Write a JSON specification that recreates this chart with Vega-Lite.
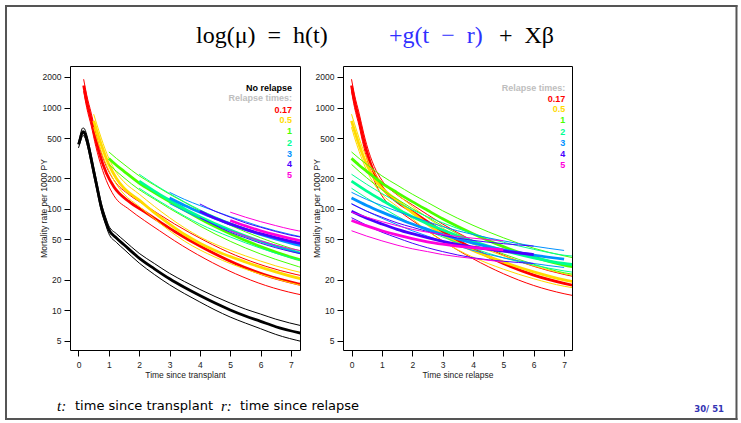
{
"$schema": "https://vega.github.io/schema/vega-lite/v6.json",
"padding": {"left": 4, "top": 4, "right": 4, "bottom": 4},
"background": "white",
"bounds": "flush",
"config": {
  "view": {"stroke": "black", "strokeWidth": 1},
  "font": "Liberation Sans",
  "axis": {"domain": false, "grid": false, "tickColor": "black", "tickSize": 6, "tickWidth": 1, "labelFont": "Liberation Sans", "labelFontSize": 8.5, "labelColor": "#222222", "labelPadding": 3, "titleFont": "Liberation Sans", "titleFontSize": 8.5, "titleFontWeight": "normal", "titleColor": "#222222", "labelOverlap": false, "labelFlush": false},
  "axisX": {"labelPadding": 4, "titlePadding": 2},
  "axisY": {"titlePadding": -6}
},
"datasets": {"curves": [
{"g":"none","c":"lo","t":0,"v":400},{"g":"none","c":"lo","t":0.05,"v":445},{"g":"none","c":"lo","t":0.1,"v":500},{"g":"none","c":"lo","t":0.15,"v":530},{"g":"none","c":"lo","t":0.2,"v":515},{"g":"none","c":"lo","t":0.3,"v":410},{"g":"none","c":"lo","t":0.4,"v":300},{"g":"none","c":"lo","t":0.5,"v":214},{"g":"none","c":"lo","t":0.6,"v":155},{"g":"none","c":"lo","t":0.75,"v":96},{"g":"none","c":"lo","t":0.9,"v":69},{"g":"none","c":"lo","t":1,"v":57},{"g":"none","c":"lo","t":1.25,"v":46.8},{"g":"none","c":"lo","t":1.5,"v":40},{"g":"none","c":"lo","t":2,"v":29.3},{"g":"none","c":"lo","t":2.5,"v":22.6},{"g":"none","c":"lo","t":3,"v":17.9},{"g":"none","c":"lo","t":3.5,"v":14.6},{"g":"none","c":"lo","t":4,"v":12.1},{"g":"none","c":"lo","t":4.5,"v":10.1},{"g":"none","c":"lo","t":5,"v":8.6},{"g":"none","c":"lo","t":5.5,"v":7.5},{"g":"none","c":"lo","t":6,"v":6.6},{"g":"none","c":"lo","t":6.5,"v":5.8},{"g":"none","c":"lo","t":7.4,"v":4.9},
{"g":"none","c":"hi","t":0,"v":455},{"g":"none","c":"hi","t":0.05,"v":520},{"g":"none","c":"hi","t":0.1,"v":600},{"g":"none","c":"hi","t":0.15,"v":630},{"g":"none","c":"hi","t":0.2,"v":615},{"g":"none","c":"hi","t":0.3,"v":500},{"g":"none","c":"hi","t":0.4,"v":365},{"g":"none","c":"hi","t":0.5,"v":260},{"g":"none","c":"hi","t":0.6,"v":187},{"g":"none","c":"hi","t":0.75,"v":115},{"g":"none","c":"hi","t":0.9,"v":82},{"g":"none","c":"hi","t":1,"v":68},{"g":"none","c":"hi","t":1.25,"v":57},{"g":"none","c":"hi","t":1.5,"v":49},{"g":"none","c":"hi","t":2,"v":36.5},{"g":"none","c":"hi","t":2.5,"v":29},{"g":"none","c":"hi","t":3,"v":23.2},{"g":"none","c":"hi","t":3.5,"v":19.2},{"g":"none","c":"hi","t":4,"v":16.1},{"g":"none","c":"hi","t":4.5,"v":13.7},{"g":"none","c":"hi","t":5,"v":11.8},{"g":"none","c":"hi","t":5.5,"v":10.3},{"g":"none","c":"hi","t":6,"v":9.2},{"g":"none","c":"hi","t":6.5,"v":8.2},{"g":"none","c":"hi","t":7.4,"v":7},
{"g":"none","c":"mid","t":0,"v":432},{"g":"none","c":"mid","t":0.05,"v":480},{"g":"none","c":"mid","t":0.1,"v":545},{"g":"none","c":"mid","t":0.15,"v":577},{"g":"none","c":"mid","t":0.2,"v":560},{"g":"none","c":"mid","t":0.3,"v":450},{"g":"none","c":"mid","t":0.4,"v":330},{"g":"none","c":"mid","t":0.5,"v":236},{"g":"none","c":"mid","t":0.6,"v":170},{"g":"none","c":"mid","t":0.75,"v":105},{"g":"none","c":"mid","t":0.9,"v":75},{"g":"none","c":"mid","t":1,"v":62.5},{"g":"none","c":"mid","t":1.25,"v":51.7},{"g":"none","c":"mid","t":1.5,"v":44.4},{"g":"none","c":"mid","t":2,"v":32.8},{"g":"none","c":"mid","t":2.5,"v":25.7},{"g":"none","c":"mid","t":3,"v":20.5},{"g":"none","c":"mid","t":3.5,"v":16.8},{"g":"none","c":"mid","t":4,"v":14},{"g":"none","c":"mid","t":4.5,"v":11.8},{"g":"none","c":"mid","t":5,"v":10.1},{"g":"none","c":"mid","t":5.5,"v":8.8},{"g":"none","c":"mid","t":6,"v":7.8},{"g":"none","c":"mid","t":6.5,"v":6.9},{"g":"none","c":"mid","t":7.4,"v":5.9},
{"g":"0.17","c":"lo","s":0,"t":0.17,"v":1450},{"g":"0.17","c":"lo","s":0.1,"t":0.27,"v":1000},{"g":"0.17","c":"lo","s":0.25,"t":0.42,"v":660},{"g":"0.17","c":"lo","s":0.4,"t":0.57,"v":415},{"g":"0.17","c":"lo","s":0.5,"t":0.67,"v":318},{"g":"0.17","c":"lo","s":0.75,"t":0.92,"v":190},{"g":"0.17","c":"lo","s":1,"t":1.17,"v":135},{"g":"0.17","c":"lo","s":1.5,"t":1.67,"v":99},{"g":"0.17","c":"lo","s":2,"t":2.17,"v":77},{"g":"0.17","c":"lo","s":2.5,"t":2.67,"v":61},{"g":"0.17","c":"lo","s":3,"t":3.17,"v":48.5},{"g":"0.17","c":"lo","s":4,"t":4.17,"v":32.3},{"g":"0.17","c":"lo","s":5,"t":5.17,"v":23},{"g":"0.17","c":"lo","s":6,"t":6.17,"v":17.6},{"g":"0.17","c":"lo","s":7,"t":7.17,"v":14.6},{"g":"0.17","c":"lo","s":7.4,"t":7.57,"v":13.8},
{"g":"0.17","c":"hi","s":0,"t":0.17,"v":1900},{"g":"0.17","c":"hi","s":0.1,"t":0.27,"v":1330},{"g":"0.17","c":"hi","s":0.25,"t":0.42,"v":880},{"g":"0.17","c":"hi","s":0.4,"t":0.57,"v":560},{"g":"0.17","c":"hi","s":0.5,"t":0.67,"v":430},{"g":"0.17","c":"hi","s":0.75,"t":0.92,"v":262},{"g":"0.17","c":"hi","s":1,"t":1.17,"v":192},{"g":"0.17","c":"hi","s":1.5,"t":1.67,"v":138},{"g":"0.17","c":"hi","s":2,"t":2.17,"v":110},{"g":"0.17","c":"hi","s":2.5,"t":2.67,"v":88},{"g":"0.17","c":"hi","s":3,"t":3.17,"v":71},{"g":"0.17","c":"hi","s":4,"t":4.17,"v":48.5},{"g":"0.17","c":"hi","s":5,"t":5.17,"v":35},{"g":"0.17","c":"hi","s":6,"t":6.17,"v":27.2},{"g":"0.17","c":"hi","s":7,"t":7.17,"v":22.6},{"g":"0.17","c":"hi","s":7.4,"t":7.57,"v":21.3},
{"g":"0.17","c":"mid","s":0,"t":0.17,"v":1650},{"g":"0.17","c":"mid","s":0.1,"t":0.27,"v":1150},{"g":"0.17","c":"mid","s":0.25,"t":0.42,"v":760},{"g":"0.17","c":"mid","s":0.4,"t":0.57,"v":480},{"g":"0.17","c":"mid","s":0.5,"t":0.67,"v":370},{"g":"0.17","c":"mid","s":0.75,"t":0.92,"v":225},{"g":"0.17","c":"mid","s":1,"t":1.17,"v":165},{"g":"0.17","c":"mid","s":1.5,"t":1.67,"v":118},{"g":"0.17","c":"mid","s":2,"t":2.17,"v":94},{"g":"0.17","c":"mid","s":2.5,"t":2.67,"v":75},{"g":"0.17","c":"mid","s":3,"t":3.17,"v":60},{"g":"0.17","c":"mid","s":4,"t":4.17,"v":40.5},{"g":"0.17","c":"mid","s":5,"t":5.17,"v":29},{"g":"0.17","c":"mid","s":6,"t":6.17,"v":22.3},{"g":"0.17","c":"mid","s":7,"t":7.17,"v":18.5},{"g":"0.17","c":"mid","s":7.4,"t":7.57,"v":17.4},
{"g":"0.5","c":"lo","s":0,"t":0.5,"v":640},{"g":"0.5","c":"lo","s":0.1,"t":0.6,"v":505},{"g":"0.5","c":"lo","s":0.25,"t":0.75,"v":370},{"g":"0.5","c":"lo","s":0.5,"t":1,"v":240},{"g":"0.5","c":"lo","s":0.75,"t":1.25,"v":175},{"g":"0.5","c":"lo","s":1,"t":1.5,"v":140},{"g":"0.5","c":"lo","s":1.5,"t":2,"v":106},{"g":"0.5","c":"lo","s":2,"t":2.5,"v":80},{"g":"0.5","c":"lo","s":2.5,"t":3,"v":61},{"g":"0.5","c":"lo","s":3,"t":3.5,"v":48},{"g":"0.5","c":"lo","s":3.5,"t":4,"v":39.5},{"g":"0.5","c":"lo","s":4,"t":4.5,"v":33.5},{"g":"0.5","c":"lo","s":5,"t":5.5,"v":25.5},{"g":"0.5","c":"lo","s":6,"t":6.5,"v":20.5},{"g":"0.5","c":"lo","s":7,"t":7.5,"v":17.3},{"g":"0.5","c":"lo","s":7.4,"t":7.9,"v":16.5},
{"g":"0.5","c":"hi","s":0,"t":0.5,"v":860},{"g":"0.5","c":"hi","s":0.1,"t":0.6,"v":690},{"g":"0.5","c":"hi","s":0.25,"t":0.75,"v":500},{"g":"0.5","c":"hi","s":0.5,"t":1,"v":315},{"g":"0.5","c":"hi","s":0.75,"t":1.25,"v":228},{"g":"0.5","c":"hi","s":1,"t":1.5,"v":185},{"g":"0.5","c":"hi","s":1.5,"t":2,"v":140},{"g":"0.5","c":"hi","s":2,"t":2.5,"v":106},{"g":"0.5","c":"hi","s":2.5,"t":3,"v":82},{"g":"0.5","c":"hi","s":3,"t":3.5,"v":65},{"g":"0.5","c":"hi","s":3.5,"t":4,"v":53},{"g":"0.5","c":"hi","s":4,"t":4.5,"v":45},{"g":"0.5","c":"hi","s":5,"t":5.5,"v":34.5},{"g":"0.5","c":"hi","s":6,"t":6.5,"v":27.5},{"g":"0.5","c":"hi","s":7,"t":7.5,"v":23},{"g":"0.5","c":"hi","s":7.4,"t":7.9,"v":21.8},
{"g":"0.5","c":"mid","s":0,"t":0.5,"v":740},{"g":"0.5","c":"mid","s":0.1,"t":0.6,"v":590},{"g":"0.5","c":"mid","s":0.25,"t":0.75,"v":430},{"g":"0.5","c":"mid","s":0.5,"t":1,"v":275},{"g":"0.5","c":"mid","s":0.75,"t":1.25,"v":200},{"g":"0.5","c":"mid","s":1,"t":1.5,"v":160},{"g":"0.5","c":"mid","s":1.5,"t":2,"v":122},{"g":"0.5","c":"mid","s":2,"t":2.5,"v":92},{"g":"0.5","c":"mid","s":2.5,"t":3,"v":71},{"g":"0.5","c":"mid","s":3,"t":3.5,"v":56},{"g":"0.5","c":"mid","s":3.5,"t":4,"v":46},{"g":"0.5","c":"mid","s":4,"t":4.5,"v":39},{"g":"0.5","c":"mid","s":5,"t":5.5,"v":30},{"g":"0.5","c":"mid","s":6,"t":6.5,"v":24},{"g":"0.5","c":"mid","s":7,"t":7.5,"v":20},{"g":"0.5","c":"mid","s":7.4,"t":7.9,"v":19},
{"g":"1","c":"lo","s":0,"t":1,"v":275},{"g":"1","c":"lo","s":0.25,"t":1.25,"v":235},{"g":"1","c":"lo","s":0.5,"t":1.5,"v":203},{"g":"1","c":"lo","s":1,"t":2,"v":155},{"g":"1","c":"lo","s":1.5,"t":2.5,"v":125},{"g":"1","c":"lo","s":2,"t":3,"v":101},{"g":"1","c":"lo","s":2.5,"t":3.5,"v":83},{"g":"1","c":"lo","s":3,"t":4,"v":68},{"g":"1","c":"lo","s":4,"t":5,"v":48},{"g":"1","c":"lo","s":5,"t":6,"v":36},{"g":"1","c":"lo","s":6,"t":7,"v":28.5},{"g":"1","c":"lo","s":7,"t":8,"v":23.5},{"g":"1","c":"lo","s":7.4,"t":8.4,"v":22.5},
{"g":"1","c":"hi","s":0,"t":1,"v":365},{"g":"1","c":"hi","s":0.25,"t":1.25,"v":315},{"g":"1","c":"hi","s":0.5,"t":1.5,"v":275},{"g":"1","c":"hi","s":1,"t":2,"v":212},{"g":"1","c":"hi","s":1.5,"t":2.5,"v":172},{"g":"1","c":"hi","s":2,"t":3,"v":140},{"g":"1","c":"hi","s":2.5,"t":3.5,"v":116},{"g":"1","c":"hi","s":3,"t":4,"v":96},{"g":"1","c":"hi","s":4,"t":5,"v":69},{"g":"1","c":"hi","s":5,"t":6,"v":52},{"g":"1","c":"hi","s":6,"t":7,"v":41},{"g":"1","c":"hi","s":7,"t":8,"v":34.5},{"g":"1","c":"hi","s":7.4,"t":8.4,"v":32.5},
{"g":"1","c":"mid","s":0,"t":1,"v":315},{"g":"1","c":"mid","s":0.25,"t":1.25,"v":270},{"g":"1","c":"mid","s":0.5,"t":1.5,"v":235},{"g":"1","c":"mid","s":1,"t":2,"v":180},{"g":"1","c":"mid","s":1.5,"t":2.5,"v":145},{"g":"1","c":"mid","s":2,"t":3,"v":118},{"g":"1","c":"mid","s":2.5,"t":3.5,"v":97},{"g":"1","c":"mid","s":3,"t":4,"v":80},{"g":"1","c":"mid","s":4,"t":5,"v":57},{"g":"1","c":"mid","s":5,"t":6,"v":42.5},{"g":"1","c":"mid","s":6,"t":7,"v":33.5},{"g":"1","c":"mid","s":7,"t":8,"v":28},{"g":"1","c":"mid","s":7.4,"t":8.4,"v":26.5},
{"g":"2","c":"lo","s":0,"t":2,"v":160},{"g":"2","c":"lo","s":0.5,"t":2.5,"v":128},{"g":"2","c":"lo","s":1,"t":3,"v":104},{"g":"2","c":"lo","s":1.5,"t":3.5,"v":85},{"g":"2","c":"lo","s":2,"t":4,"v":71},{"g":"2","c":"lo","s":3,"t":5,"v":53},{"g":"2","c":"lo","s":4,"t":6,"v":41},{"g":"2","c":"lo","s":5,"t":7,"v":33},{"g":"2","c":"lo","s":6,"t":8,"v":28},{"g":"2","c":"lo","s":7,"t":9,"v":24.5},{"g":"2","c":"lo","s":7.4,"t":9.4,"v":23.5},
{"g":"2","c":"hi","s":0,"t":2,"v":220},{"g":"2","c":"hi","s":0.5,"t":2.5,"v":175},{"g":"2","c":"hi","s":1,"t":3,"v":142},{"g":"2","c":"hi","s":1.5,"t":3.5,"v":117},{"g":"2","c":"hi","s":2,"t":4,"v":98},{"g":"2","c":"hi","s":3,"t":5,"v":73},{"g":"2","c":"hi","s":4,"t":6,"v":57},{"g":"2","c":"hi","s":5,"t":7,"v":47},{"g":"2","c":"hi","s":6,"t":8,"v":40},{"g":"2","c":"hi","s":7,"t":9,"v":35},{"g":"2","c":"hi","s":7.4,"t":9.4,"v":34},
{"g":"2","c":"mid","s":0,"t":2,"v":188},{"g":"2","c":"mid","s":0.5,"t":2.5,"v":150},{"g":"2","c":"mid","s":1,"t":3,"v":122},{"g":"2","c":"mid","s":1.5,"t":3.5,"v":100},{"g":"2","c":"mid","s":2,"t":4,"v":84},{"g":"2","c":"mid","s":3,"t":5,"v":62},{"g":"2","c":"mid","s":4,"t":6,"v":48},{"g":"2","c":"mid","s":5,"t":7,"v":39},{"g":"2","c":"mid","s":6,"t":8,"v":33},{"g":"2","c":"mid","s":7,"t":9,"v":29},{"g":"2","c":"mid","s":7.4,"t":9.4,"v":28},
{"g":"3","c":"lo","s":0,"t":3,"v":113},{"g":"3","c":"lo","s":0.5,"t":3.5,"v":95},{"g":"3","c":"lo","s":1,"t":4,"v":81},{"g":"3","c":"lo","s":1.5,"t":4.5,"v":70},{"g":"3","c":"lo","s":2,"t":5,"v":61},{"g":"3","c":"lo","s":2.5,"t":5.5,"v":54},{"g":"3","c":"lo","s":3,"t":6,"v":48},{"g":"3","c":"lo","s":4,"t":7,"v":39},{"g":"3","c":"lo","s":5,"t":8,"v":33},{"g":"3","c":"lo","s":6,"t":9,"v":29},{"g":"3","c":"lo","s":7,"t":10,"v":26.5},
{"g":"3","c":"hi","s":0,"t":3,"v":146},{"g":"3","c":"hi","s":0.5,"t":3.5,"v":124},{"g":"3","c":"hi","s":1,"t":4,"v":108},{"g":"3","c":"hi","s":1.5,"t":4.5,"v":95},{"g":"3","c":"hi","s":2,"t":5,"v":84},{"g":"3","c":"hi","s":2.5,"t":5.5,"v":75},{"g":"3","c":"hi","s":3,"t":6,"v":67},{"g":"3","c":"hi","s":4,"t":7,"v":56},{"g":"3","c":"hi","s":5,"t":8,"v":48.5},{"g":"3","c":"hi","s":6,"t":9,"v":43},{"g":"3","c":"hi","s":7,"t":10,"v":39},
{"g":"3","c":"mid","s":0,"t":3,"v":128},{"g":"3","c":"mid","s":0.5,"t":3.5,"v":108},{"g":"3","c":"mid","s":1,"t":4,"v":93},{"g":"3","c":"mid","s":1.5,"t":4.5,"v":81},{"g":"3","c":"mid","s":2,"t":5,"v":71},{"g":"3","c":"mid","s":2.5,"t":5.5,"v":63},{"g":"3","c":"mid","s":3,"t":6,"v":56},{"g":"3","c":"mid","s":4,"t":7,"v":46},{"g":"3","c":"mid","s":5,"t":8,"v":39.5},{"g":"3","c":"mid","s":6,"t":9,"v":35},{"g":"3","c":"mid","s":7,"t":10,"v":32},
{"g":"4","c":"lo","s":0,"t":4,"v":82},{"g":"4","c":"lo","s":0.5,"t":4.5,"v":69},{"g":"4","c":"lo","s":1,"t":5,"v":59},{"g":"4","c":"lo","s":1.5,"t":5.5,"v":52},{"g":"4","c":"lo","s":2,"t":6,"v":46},{"g":"4","c":"lo","s":3,"t":7,"v":38},{"g":"4","c":"lo","s":4,"t":8,"v":33},{"g":"4","c":"lo","s":5,"t":9,"v":30.5},{"g":"4","c":"lo","s":6,"t":10,"v":29},
{"g":"4","c":"hi","s":0,"t":4,"v":112},{"g":"4","c":"hi","s":0.5,"t":4.5,"v":95},{"g":"4","c":"hi","s":1,"t":5,"v":83},{"g":"4","c":"hi","s":1.5,"t":5.5,"v":73},{"g":"4","c":"hi","s":2,"t":6,"v":66},{"g":"4","c":"hi","s":3,"t":7,"v":55},{"g":"4","c":"hi","s":4,"t":8,"v":49},{"g":"4","c":"hi","s":5,"t":9,"v":45.5},{"g":"4","c":"hi","s":6,"t":10,"v":43},
{"g":"4","c":"mid","s":0,"t":4,"v":95},{"g":"4","c":"mid","s":0.5,"t":4.5,"v":81},{"g":"4","c":"mid","s":1,"t":5,"v":71},{"g":"4","c":"mid","s":1.5,"t":5.5,"v":63},{"g":"4","c":"mid","s":2,"t":6,"v":57},{"g":"4","c":"mid","s":3,"t":7,"v":48},{"g":"4","c":"mid","s":4,"t":8,"v":42},{"g":"4","c":"mid","s":5,"t":9,"v":38.5},{"g":"4","c":"mid","s":6,"t":10,"v":35.5},
{"g":"5","c":"lo","s":0,"t":5,"v":61},{"g":"5","c":"lo","s":0.5,"t":5.5,"v":54},{"g":"5","c":"lo","s":1,"t":6,"v":48.5},{"g":"5","c":"lo","s":1.5,"t":6.5,"v":44},{"g":"5","c":"lo","s":2,"t":7,"v":40.5},{"g":"5","c":"lo","s":2.5,"t":7.5,"v":38},{"g":"5","c":"lo","s":3,"t":8,"v":35.5},{"g":"5","c":"lo","s":4,"t":9,"v":32.5},{"g":"5","c":"lo","s":5,"t":10,"v":30},
{"g":"5","c":"hi","s":0,"t":5,"v":93},{"g":"5","c":"hi","s":0.5,"t":5.5,"v":83},{"g":"5","c":"hi","s":1,"t":6,"v":75},{"g":"5","c":"hi","s":1.5,"t":6.5,"v":68.5},{"g":"5","c":"hi","s":2,"t":7,"v":63},{"g":"5","c":"hi","s":2.5,"t":7.5,"v":59},{"g":"5","c":"hi","s":3,"t":8,"v":56},{"g":"5","c":"hi","s":4,"t":9,"v":51.5},{"g":"5","c":"hi","s":5,"t":10,"v":48.5},
{"g":"5","c":"mid","s":0,"t":5,"v":77},{"g":"5","c":"mid","s":0.5,"t":5.5,"v":68},{"g":"5","c":"mid","s":1,"t":6,"v":61},{"g":"5","c":"mid","s":1.5,"t":6.5,"v":55.5},{"g":"5","c":"mid","s":2,"t":7,"v":51},{"g":"5","c":"mid","s":2.5,"t":7.5,"v":47.5},{"g":"5","c":"mid","s":3,"t":8,"v":45},{"g":"5","c":"mid","s":4,"t":9,"v":41.5},{"g":"5","c":"mid","s":5,"t":10,"v":39.5}
]},
"spacing": 43,
"hconcat": [
 {
  "width": 230, "height": 284,
  "data": {"values": [{}]},
  "resolve": {"axis": {"x": "independent", "y": "independent"}},
  "layer": [
   {"data": {"name": "curves"},
    "mark": {"type": "line", "clip": true, "interpolate": "monotone"},
    "encoding": {
      "x": {"field": "t", "type": "quantitative", "scale": {"domain": [-0.28, 7.3], "nice": false, "zero": false}, "axis": {"title": "Time since transplant", "values": [0,1,2,3,4,5,6,7], "tickCount": 8, "labelOverlap": false}},
      "y": {"field": "v", "type": "quantitative", "scale": {"type": "log", "domain": [4.07, 2566], "nice": false}, "axis": {"title": "Mortality rate per 1000 PY", "values": [5,10,20,50,100,200,500,1000,2000], "format": "d", "labelOverlap": false}},
      "color": {"field": "g", "type": "nominal", "scale": {"domain": ["none","0.17","0.5","1","2","3","4","5"], "range": ["#000000","#FF0000","#FFDB00","#49FF00","#00FF92","#0092FF","#4900FF","#FF00DB"]}, "legend": null},
      "strokeWidth": {"condition": {"test": "datum.c == 'mid'", "value": 2.8}, "value": 1},
      "detail": {"field": "c"}
    }},
   {"mark": {"type": "text", "text": "No relapse", "align": "right", "baseline": "middle", "fontSize": 9, "fontWeight": "bold", "color": "#000000"}, "encoding": {"x": {"datum": 7.04, "axis": null}, "y": {"datum": 1570, "axis": null}}},
   {"mark": {"type": "text", "text": "Relapse times:", "align": "right", "baseline": "middle", "fontSize": 9, "fontWeight": "bold", "color": "#BEBEBE"}, "encoding": {"x": {"datum": 7.04, "axis": null}, "y": {"datum": 1233, "axis": null}}},
   {"mark": {"type": "text", "text": "0.17", "align": "right", "baseline": "middle", "fontSize": 9, "fontWeight": "bold", "color": "#FF0000"}, "encoding": {"x": {"datum": 7.04, "axis": null}, "y": {"datum": 946, "axis": null}}},
   {"mark": {"type": "text", "text": "0.5", "align": "right", "baseline": "middle", "fontSize": 9, "fontWeight": "bold", "color": "#FFDB00"}, "encoding": {"x": {"datum": 7.04, "axis": null}, "y": {"datum": 748, "axis": null}}},
   {"mark": {"type": "text", "text": "1", "align": "right", "baseline": "middle", "fontSize": 9, "fontWeight": "bold", "color": "#49FF00"}, "encoding": {"x": {"datum": 7.04, "axis": null}, "y": {"datum": 588, "axis": null}}},
   {"mark": {"type": "text", "text": "2", "align": "right", "baseline": "middle", "fontSize": 9, "fontWeight": "bold", "color": "#00FF92"}, "encoding": {"x": {"datum": 7.04, "axis": null}, "y": {"datum": 451, "axis": null}}},
   {"mark": {"type": "text", "text": "3", "align": "right", "baseline": "middle", "fontSize": 9, "fontWeight": "bold", "color": "#0092FF"}, "encoding": {"x": {"datum": 7.04, "axis": null}, "y": {"datum": 351, "axis": null}}},
   {"mark": {"type": "text", "text": "4", "align": "right", "baseline": "middle", "fontSize": 9, "fontWeight": "bold", "color": "#4900FF"}, "encoding": {"x": {"datum": 7.04, "axis": null}, "y": {"datum": 276, "axis": null}}},
   {"mark": {"type": "text", "text": "5", "align": "right", "baseline": "middle", "fontSize": 9, "fontWeight": "bold", "color": "#FF00DB"}, "encoding": {"x": {"datum": 7.04, "axis": null}, "y": {"datum": 217, "axis": null}}},
   {"mark": {"type": "rule", "color": "#555555", "strokeWidth": 2, "strokeCap": "square"}, "encoding": {"x": {"datum": -2.389, "axis": null}, "y": {"datum": 10018, "axis": null}, "y2": {"datum": 0.85}}},
   {"mark": {"type": "rule", "color": "#555555", "strokeWidth": 2, "strokeCap": "square"}, "encoding": {"x": {"datum": 21.685, "axis": null}, "y": {"datum": 10018, "axis": null}, "y2": {"datum": 0.85}}},
   {"mark": {"type": "rule", "color": "#555555", "strokeWidth": 2, "strokeCap": "square"}, "encoding": {"x": {"datum": -2.389, "axis": null}, "x2": {"datum": 21.685}, "y": {"datum": 10018, "axis": null}}},
   {"mark": {"type": "rule", "color": "#555555", "strokeWidth": 2, "strokeCap": "square"}, "encoding": {"x": {"datum": -2.389, "axis": null}, "x2": {"datum": 21.685}, "y": {"datum": 0.85, "axis": null}}},
   {"mark": {"type": "text", "text": "log(μ)\u2002=\u2002h(t)", "font": "Liberation Serif", "fontSize": 24, "align": "left", "baseline": "alphabetic", "color": "#000000"}, "encoding": {"x": {"datum": 3.8725, "axis": null}, "y": {"datum": 4325, "axis": null}}},
   {"mark": {"type": "text", "text": "+g(t\u2002−\u2002r)", "font": "Liberation Serif", "fontSize": 24, "align": "left", "baseline": "alphabetic", "color": "#3030FF"}, "encoding": {"x": {"datum": 10.233, "axis": null}, "y": {"datum": 4325, "axis": null}}},
   {"mark": {"type": "text", "text": "+\u2002Xβ", "font": "Liberation Serif", "fontSize": 24, "align": "right", "baseline": "alphabetic", "color": "#000000"}, "encoding": {"x": {"datum": 15.671, "axis": null}, "y": {"datum": 4325, "axis": null}}},
   {"mark": {"type": "text", "text": "t:", "font": "Liberation Serif", "fontStyle": "italic", "fontSize": 15, "align": "left", "baseline": "middle", "color": "#000000"}, "encoding": {"x": {"datum": -0.708, "axis": null}, "y": {"datum": 1.142, "axis": null}}},
   {"mark": {"type": "text", "text": "time since transplant", "font": "DejaVu Sans", "fontSize": 13, "align": "left", "baseline": "middle", "color": "#000000"}, "encoding": {"x": {"datum": -0.115, "axis": null}, "y": {"datum": 1.142, "axis": null}}},
   {"mark": {"type": "text", "text": "r:", "font": "Liberation Serif", "fontStyle": "italic", "fontSize": 15, "align": "left", "baseline": "middle", "color": "#000000"}, "encoding": {"x": {"datum": 4.696, "axis": null}, "y": {"datum": 1.142, "axis": null}}},
   {"mark": {"type": "text", "text": "time since relapse", "font": "DejaVu Sans", "fontSize": 13, "align": "left", "baseline": "middle", "color": "#000000"}, "encoding": {"x": {"datum": 5.3226, "axis": null}, "y": {"datum": 1.142, "axis": null}}},
   {"mark": {"type": "text", "text": "30/ 51", "font": "DejaVu Sans", "fontSize": 8.5, "fontWeight": "bold", "align": "right", "baseline": "middle", "color": "#3333B3"}, "encoding": {"x": {"datum": 21.274, "axis": null}, "y": {"datum": 1.067, "axis": null}}}
  ]
 },
 {
  "width": 229, "height": 284,
  "data": {"values": [{}]},
  "resolve": {"axis": {"x": "independent", "y": "independent"}},
  "layer": [
   {"data": {"name": "curves"},
    "transform": [{"filter": "datum.g != 'none'"}],
    "mark": {"type": "line", "clip": true, "interpolate": "monotone"},
    "encoding": {
      "x": {"field": "s", "type": "quantitative", "scale": {"domain": [-0.28, 7.26], "nice": false, "zero": false}, "axis": {"title": "Time since relapse", "values": [0,1,2,3,4,5,6,7], "tickCount": 8, "labelOverlap": false}},
      "y": {"field": "v", "type": "quantitative", "scale": {"type": "log", "domain": [4.07, 2566], "nice": false}, "axis": {"title": "Mortality rate per 1000 PY", "values": [5,10,20,50,100,200,500,1000,2000], "format": "d", "labelOverlap": false}},
      "color": {"field": "g", "type": "nominal", "scale": {"domain": ["none","0.17","0.5","1","2","3","4","5"], "range": ["#000000","#FF0000","#FFDB00","#49FF00","#00FF92","#0092FF","#4900FF","#FF00DB"]}, "legend": null},
      "strokeWidth": {"condition": {"test": "datum.c == 'mid'", "value": 2.8}, "value": 1},
      "detail": {"field": "c"}
    }},
   {"mark": {"type": "text", "text": "Relapse times:", "align": "right", "baseline": "middle", "fontSize": 9, "fontWeight": "bold", "color": "#BEBEBE"}, "encoding": {"x": {"datum": 7.04, "axis": null}, "y": {"datum": 1549, "axis": null}}},
   {"mark": {"type": "text", "text": "0.17", "align": "right", "baseline": "middle", "fontSize": 9, "fontWeight": "bold", "color": "#FF0000"}, "encoding": {"x": {"datum": 7.04, "axis": null}, "y": {"datum": 1222, "axis": null}}},
   {"mark": {"type": "text", "text": "0.5", "align": "right", "baseline": "middle", "fontSize": 9, "fontWeight": "bold", "color": "#FFDB00"}, "encoding": {"x": {"datum": 7.04, "axis": null}, "y": {"datum": 962, "axis": null}}},
   {"mark": {"type": "text", "text": "1", "align": "right", "baseline": "middle", "fontSize": 9, "fontWeight": "bold", "color": "#49FF00"}, "encoding": {"x": {"datum": 7.04, "axis": null}, "y": {"datum": 754, "axis": null}}},
   {"mark": {"type": "text", "text": "2", "align": "right", "baseline": "middle", "fontSize": 9, "fontWeight": "bold", "color": "#00FF92"}, "encoding": {"x": {"datum": 7.04, "axis": null}, "y": {"datum": 578, "axis": null}}},
   {"mark": {"type": "text", "text": "3", "align": "right", "baseline": "middle", "fontSize": 9, "fontWeight": "bold", "color": "#0092FF"}, "encoding": {"x": {"datum": 7.04, "axis": null}, "y": {"datum": 451, "axis": null}}},
   {"mark": {"type": "text", "text": "4", "align": "right", "baseline": "middle", "fontSize": 9, "fontWeight": "bold", "color": "#4900FF"}, "encoding": {"x": {"datum": 7.04, "axis": null}, "y": {"datum": 346, "axis": null}}},
   {"mark": {"type": "text", "text": "5", "align": "right", "baseline": "middle", "fontSize": 9, "fontWeight": "bold", "color": "#FF00DB"}, "encoding": {"x": {"datum": 7.04, "axis": null}, "y": {"datum": 274, "axis": null}}}
  ]
 }
]
}
